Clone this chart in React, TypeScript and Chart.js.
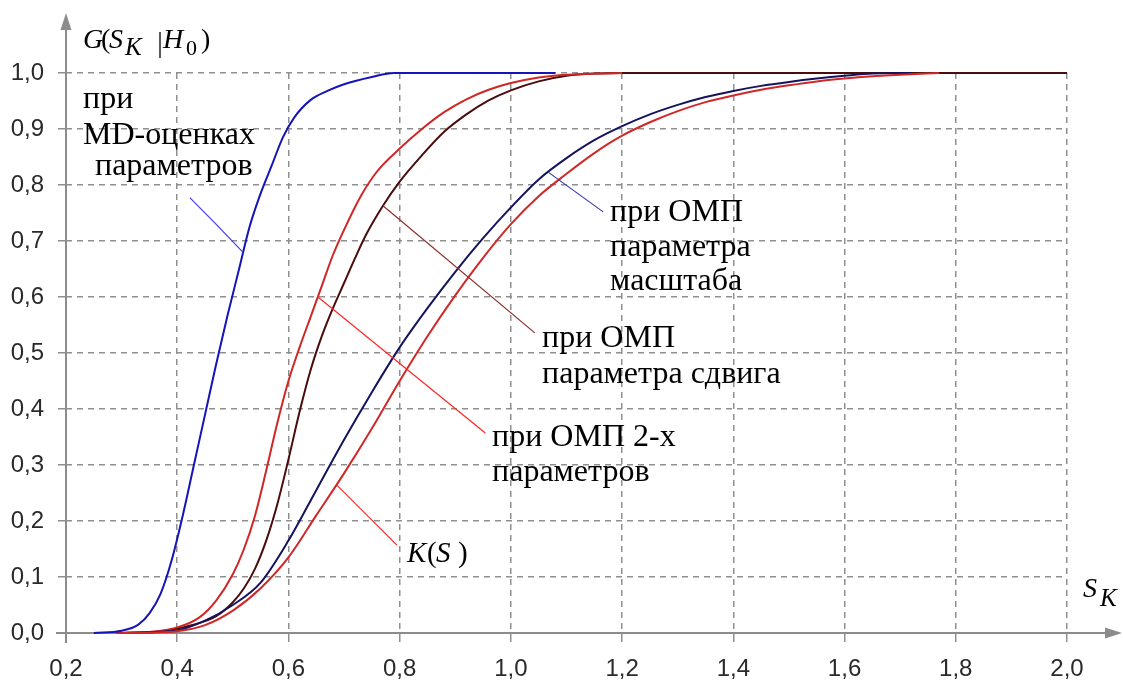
import React, { useEffect, useRef } from "react";
import { Chart, registerables } from "chart.js";
Chart.register(...registerables);

// ---------- data ----------
const xTickValues = [0.2, 0.4, 0.6, 0.8, 1.0, 1.2, 1.4, 1.6, 1.8, 2.0];
const yTickValues = [0.0, 0.1, 0.2, 0.3, 0.4, 0.5, 0.6, 0.7, 0.8, 0.9, 1.0];

// MD-estimates
const mdX = [0.25, 0.30, 0.33, 0.35, 0.37, 0.39, 0.41, 0.43, 0.45, 0.47, 0.49, 0.51, 0.53, 0.55, 0.57, 0.59, 0.61, 0.64, 0.67, 0.70, 0.75, 0.79, 1.08];
const mdY = [0, 0.004, 0.015, 0.035, 0.07, 0.13, 0.21, 0.30, 0.39, 0.48, 0.565, 0.645, 0.725, 0.785, 0.835, 0.885, 0.92, 0.952, 0.968, 0.98, 0.993, 1, 1];

// MLE of 2 parameters
const twoX = [0.29, 0.35, 0.40, 0.44, 0.47, 0.50, 0.52, 0.54, 0.56, 0.58, 0.60, 0.62, 0.64, 0.66, 0.68, 0.70, 0.73, 0.76, 0.80, 0.84, 0.88, 0.92, 0.96, 1.00, 1.05, 1.10, 1.20];
const twoY = [0, 0.002, 0.01, 0.028, 0.058, 0.105, 0.15, 0.21, 0.29, 0.375, 0.45, 0.51, 0.565, 0.62, 0.675, 0.72, 0.78, 0.825, 0.865, 0.9, 0.93, 0.953, 0.97, 0.982, 0.992, 0.997, 1];

// MLE of shift parameter
const shiftX = [0.30, 0.36, 0.40, 0.44, 0.47, 0.50, 0.52, 0.54, 0.56, 0.58, 0.60, 0.62, 0.64, 0.66, 0.68, 0.70, 0.72, 0.74, 0.77, 0.80, 0.84, 0.88, 0.92, 0.96, 1.00, 1.05, 1.10, 1.15, 1.20, 2.0];
const shiftY = [0, 0.002, 0.008, 0.018, 0.03, 0.055, 0.08, 0.115, 0.165, 0.23, 0.31, 0.395, 0.47, 0.53, 0.58, 0.625, 0.67, 0.712, 0.763, 0.806, 0.853, 0.895, 0.926, 0.951, 0.969, 0.985, 0.995, 0.999, 1, 1];

// MLE of scale parameter
const scaleX = [0.30, 0.40, 0.45, 0.50, 0.55, 0.60, 0.65, 0.70, 0.75, 0.80, 0.85, 0.90, 0.95, 1.00, 1.05, 1.10, 1.15, 1.20, 1.25, 1.30, 1.35, 1.40, 1.45, 1.50, 1.55, 1.60, 1.65, 1.72];
const scaleY = [0, 0.005, 0.022, 0.05, 0.09, 0.165, 0.255, 0.345, 0.43, 0.51, 0.58, 0.645, 0.705, 0.76, 0.81, 0.848, 0.88, 0.905, 0.926, 0.943, 0.957, 0.968, 0.977, 0.984, 0.99, 0.995, 0.999, 1];

// Kolmogorov distribution K(S)
const kX = [0.30, 0.35, 0.40, 0.45, 0.50, 0.55, 0.60, 0.65, 0.70, 0.75, 0.80, 0.85, 0.90, 0.95, 1.00, 1.05, 1.10, 1.15, 1.20, 1.25, 1.30, 1.35, 1.40, 1.45, 1.50, 1.55, 1.60, 1.65, 1.70, 1.77];
const kY = [0, 0.0005, 0.003, 0.014, 0.04, 0.08, 0.135, 0.21, 0.285, 0.365, 0.45, 0.53, 0.603, 0.67, 0.73, 0.78, 0.82, 0.857, 0.888, 0.912, 0.932, 0.948, 0.96, 0.97, 0.978, 0.985, 0.99, 0.994, 0.997, 1];

// leader lines (data units)
const mdLeadX = [0.423, 0.468, 0.518];
const mdLeadY = [0.777, 0.732, 0.680];
const scaleLeadX = [1.067, 1.166];
const scaleLeadY = [0.823, 0.752];
const shiftLeadX = [0.770, 1.043];
const shiftLeadY = [0.763, 0.536];
const twoLeadX = [0.653, 0.954];
const twoLeadY = [0.600, 0.357];
const kLeadX = [0.687, 0.795];
const kLeadY = [0.264, 0.157];

// text annotations (data units)
const noteTexts = ["при", "MD-оценках", "параметров", "при ОМП", "параметра", "масштаба", "при ОМП", "параметра сдвига", "при ОМП 2-х", "параметров"];
const noteX = [0.2306, 0.2306, 0.2522, 1.1784, 1.1784, 1.1784, 1.0561, 1.0561, 0.9662, 0.9662];
const noteY = [0.9375, 0.8732, 0.8179, 0.7357, 0.6732, 0.6125, 0.5107, 0.4464, 0.3339, 0.2714];
const kLabelX = 0.8133;
const kLabelY = 0.1268;

const SERIF = "'Liberation Serif', 'Times New Roman', serif";
const SANS = "'Liberation Sans', Arial, sans-serif";

const pts = (xs: number[], ys: number[]) => xs.map((x, i) => ({ x, y: ys[i] }));
const fmt = (v: number) => v.toFixed(1).replace(".", ",");

type Part = { t: string; dx: number; dy?: number; italic?: boolean; size: number };
function drawParts(ctx: CanvasRenderingContext2D, x: number, y: number, parts: Part[]) {
  for (const p of parts) {
    ctx.font = `${p.italic ? "italic " : ""}${p.size}px ${SERIF}`;
    ctx.fillText(p.t, x + p.dx, y + (p.dy || 0));
  }
}

const decorPlugin = {
  id: "decor",
  beforeDatasetsDraw(chart: any) {
    const { ctx, chartArea } = chart;
    const xs = chart.scales.x;
    const ys = chart.scales.y;
    const x0 = xs.getPixelForValue(0.2);
    const y0 = ys.getPixelForValue(0);
    ctx.save();
    ctx.strokeStyle = "#8c8c8c";
    ctx.fillStyle = "#8c8c8c";
    ctx.lineWidth = 2;
    ctx.beginPath();
    ctx.moveTo(x0, y0 + 10);
    ctx.lineTo(x0, chartArea.top - 50);
    ctx.stroke();
    ctx.beginPath();
    ctx.moveTo(x0, chartArea.top - 60);
    ctx.lineTo(x0 - 5.5, chartArea.top - 43);
    ctx.lineTo(x0 + 5.5, chartArea.top - 43);
    ctx.closePath();
    ctx.fill();
    ctx.beginPath();
    ctx.moveTo(x0 - 10, y0);
    ctx.lineTo(chartArea.right + 44, y0);
    ctx.stroke();
    ctx.beginPath();
    ctx.moveTo(chartArea.right + 55, y0);
    ctx.lineTo(chartArea.right + 38, y0 - 5.5);
    ctx.lineTo(chartArea.right + 38, y0 + 5.5);
    ctx.closePath();
    ctx.fill();
    ctx.restore();
  },
  afterDraw(chart: any) {
    const { ctx, chartArea } = chart;
    const xs = chart.scales.x;
    const ys = chart.scales.y;
    ctx.save();
    ctx.fillStyle = "#000";
    ctx.textAlign = "left";
    ctx.textBaseline = "alphabetic";
    ctx.font = `32px ${SERIF}`;
    noteTexts.forEach((t, i) => {
      ctx.fillText(t, xs.getPixelForValue(noteX[i]), ys.getPixelForValue(noteY[i]));
    });
    drawParts(ctx, xs.getPixelForValue(kLabelX), ys.getPixelForValue(kLabelY), [
      { t: "K", dx: 0, italic: true, size: 29 },
      { t: "(", dx: 20, size: 29 },
      { t: "S", dx: 29, italic: true, size: 29 },
      { t: ")", dx: 51, size: 29 },
    ]);
    // y-axis title G(S_K | H_0)
    const tx = chartArea.left + 17;
    const ty = chartArea.top - 25;
    drawParts(ctx, tx, ty, [
      { t: "G", dx: 0, italic: true, size: 28 },
      { t: "(", dx: 18, size: 28 },
      { t: "S", dx: 26, italic: true, size: 28 },
      { t: "K", dx: 42, dy: 7, italic: true, size: 25 },
      { t: "H", dx: 80, italic: true, size: 28 },
      { t: "0", dx: 103, dy: 7, size: 22 },
      { t: ")", dx: 118, size: 28 },
    ]);
    ctx.strokeStyle = "#000";
    ctx.lineWidth = 1.3;
    ctx.beginPath();
    ctx.moveTo(tx + 77, ty - 16);
    ctx.lineTo(tx + 77, ty + 10);
    ctx.stroke();
    // x-axis title S_K
    drawParts(ctx, chartArea.right + 16, ys.getPixelForValue(0) - 36, [
      { t: "S", dx: 0, italic: true, size: 28 },
      { t: "K", dx: 17, dy: 9, italic: true, size: 25 },
    ]);
    ctx.restore();
  },
};

export default function App() {
  const ref = useRef<HTMLCanvasElement | null>(null);
  useEffect(() => {
    if (!ref.current) return;
    const curve = (xs: number[], ys: number[], color: string, w = 2) => ({
      data: pts(xs, ys),
      borderColor: color,
      borderWidth: w,
      pointRadius: 0,
      cubicInterpolationMode: "monotone",
      fill: false,
      clip: false,
    });
    const lead = (xs: number[], ys: number[], color: string) => ({
      data: pts(xs, ys),
      borderColor: color,
      borderWidth: 1.2,
      pointRadius: 0,
      tension: 0,
      fill: false,
      clip: false,
    });
    const chart = new Chart(ref.current, {
      type: "line",
      data: {
        datasets: [
          lead(mdLeadX, mdLeadY, "#3a3aff"),
          lead(scaleLeadX, scaleLeadY, "#3a3aa8"),
          lead(shiftLeadX, shiftLeadY, "#8e2a2a"),
          lead(twoLeadX, twoLeadY, "#ff2626"),
          lead(kLeadX, kLeadY, "#ff2626"),
          curve(mdX, mdY, "#1414b8"),
          curve(kX, kY, "#d02828"),
          curve(scaleX, scaleY, "#14145e"),
          curve(twoX, twoY, "#cf2626"),
          curve(shiftX, shiftY, "#4a0c0c"),
        ] as any,
      },
      options: {
        responsive: false,
        animation: false,
        layout: { padding: { left: 0, top: 73, right: 56, bottom: 0 } },
        plugins: { legend: { display: false }, tooltip: { enabled: false } },
        scales: {
          x: {
            type: "linear",
            min: 0.2,
            max: 2.0,
            afterBuildTicks: (s: any) => {
              s.ticks = xTickValues.map((v) => ({ value: v }));
            },
            afterFit: (s: any) => {
              s.height = 49;
            },
            ticks: {
              callback: (v: any) => fmt(Number(v)),
              font: { family: SANS, size: 24 },
              color: "#2a2a2a",
              padding: 13,
              maxRotation: 0,
              autoSkip: false,
            },
            grid: { color: "#8f8f8f", lineWidth: 1.5, tickLength: 9, tickColor: "#8f8f8f", tickWidth: 1.5 },
            border: { display: false, dash: [6, 5] },
          },
          y: {
            type: "linear",
            min: 0,
            max: 1.0,
            afterBuildTicks: (s: any) => {
              s.ticks = yTickValues.map((v) => ({ value: v }));
            },
            afterFit: (s: any) => {
              s.width = 66;
            },
            ticks: {
              callback: (v: any) => fmt(Number(v)),
              font: { family: SANS, size: 24 },
              color: "#2a2a2a",
              padding: 14,
              autoSkip: false,
            },
            grid: { color: "#8f8f8f", lineWidth: 1.5, tickLength: 8, tickColor: "#8f8f8f", tickWidth: 1.5 },
            border: { display: false, dash: [6, 5] },
          },
        },
      } as any,
      plugins: [decorPlugin],
    });
    return () => chart.destroy();
  }, []);
  return (
    <div style={{ position: "fixed", left: 0, top: 0, width: 1123, height: 682, background: "#fff" }}>
      <canvas ref={ref} width={1123} height={682} style={{ display: "block" }} />
    </div>
  );
}
